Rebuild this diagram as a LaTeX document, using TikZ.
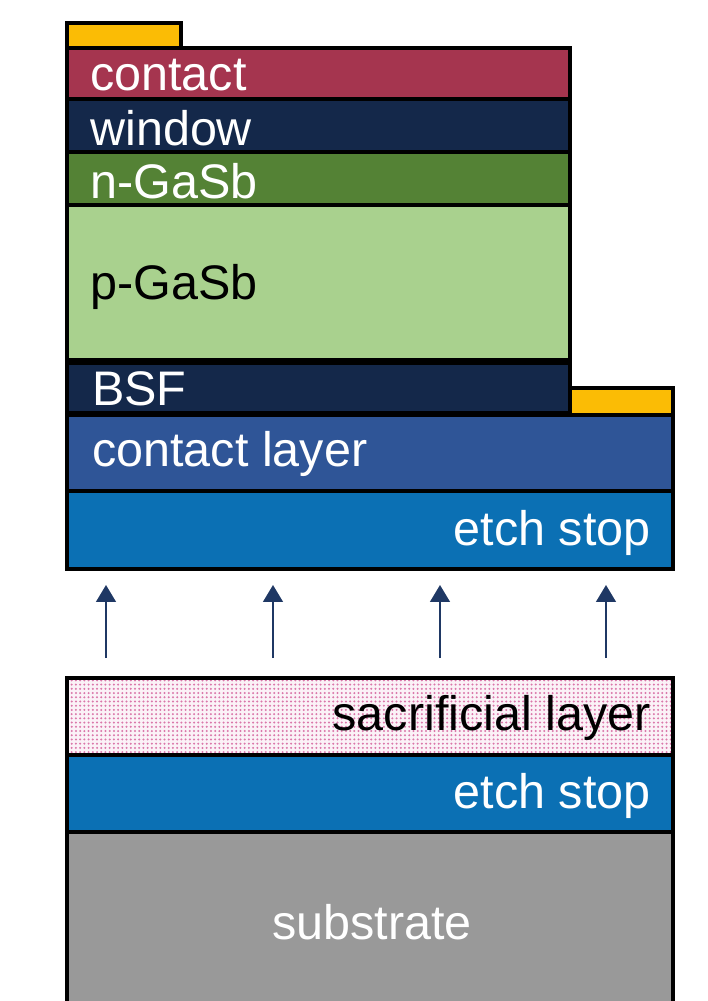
\documentclass[tikz,border=0pt]{standalone}
\usepackage{fontspec}
\setmainfont{Liberation Sans}
\usetikzlibrary{patterns.meta,arrows.meta}

\definecolor{goldpad}{HTML}{FBBC05}
\definecolor{contactred}{HTML}{A5354F}
\definecolor{windownavy}{HTML}{14284A}
\definecolor{ngreen}{HTML}{548235}
\definecolor{pgreen}{HTML}{A9D18E}
\definecolor{layerblue}{HTML}{2F5597}
\definecolor{stopblue}{HTML}{0B70B4}
\definecolor{subgray}{HTML}{999999}
\definecolor{sacpink}{HTML}{D35F9B}
\definecolor{arrownavy}{HTML}{1F3864}

\tikzset{
	layer/.style={draw=black,line width=2.2pt},
	lbl/.style={font=\fontsize{34.5}{40}\selectfont,inner sep=0pt,text=white},
	lift/.style={draw=arrownavy,line width=1.4pt,-{Triangle[width=14pt,length=12pt]}}
}

\begin{document}
\begin{tikzpicture}[x=0.025cm,y=-0.025cm]
	\useasboundingbox (0,0) rectangle (708,1001);

	% released cell stack
	\draw[layer,fill=goldpad] (67,23) rectangle (181,48);
	\draw[layer,fill=contactred] (67,48) rectangle (570,99);
	\draw[layer,fill=windownavy] (67,99) rectangle (570,152);
	\draw[layer,fill=ngreen] (67,152) rectangle (570,205);
	\draw[layer,fill=pgreen] (67,205) rectangle (570,360);
	\draw[layer,fill=windownavy] (67,363) rectangle (570,413);
	\draw[layer,fill=goldpad] (570,388) rectangle (673,415);
	\draw[layer,fill=layerblue] (67,415) rectangle (673,491);
	\draw[layer,fill=stopblue] (67,491) rectangle (673,569);

	\node[lbl,anchor=west] (contact) at (90,75) {contact};
	\node[lbl,anchor=west] (window) at (90,128) {window};
	\node[lbl,anchor=west] (ngasb) at (90,181) {n-GaSb};
	\node[lbl,anchor=west,text=black] (pgasb) at (90,287) {p-GaSb};
	\node[lbl,anchor=west] (bsf) at (92,389) {BSF};
	\node[lbl,anchor=west] (clayer) at (92,454) {contact layer};
	\node[lbl,anchor=east] (stoptop) at (651,533) {etch stop};

	% lift-off arrows
	\foreach \x [count=\i] in {106,273,440,606} {
		\coordinate (from\i) at (\x,658);
		\coordinate (to\i) at (\x,585);
		\draw[lift] (from\i) -- (to\i);
	}

	% growth substrate
	\fill[subgray] (67,832) rectangle (673,1001);
	\draw[layer] (67,1001) -- (67,832) -- (673,832) -- (673,1001);
	\draw[layer,fill=stopblue] (67,755) rectangle (673,832);
	\draw[layer,preaction={fill=sacpink!8},pattern={Dots[distance=3pt,radius=0.8pt]},pattern color=sacpink!85] (67,678) rectangle (673,755);

	\node[lbl,anchor=east,text=black] (sac) at (651,718) {sacrificial layer};
	\node[lbl,anchor=east] (stopbot) at (651,796) {etch stop};
	\node[lbl] (substrate) at (372,922) {substrate};
\end{tikzpicture}
\end{document}
